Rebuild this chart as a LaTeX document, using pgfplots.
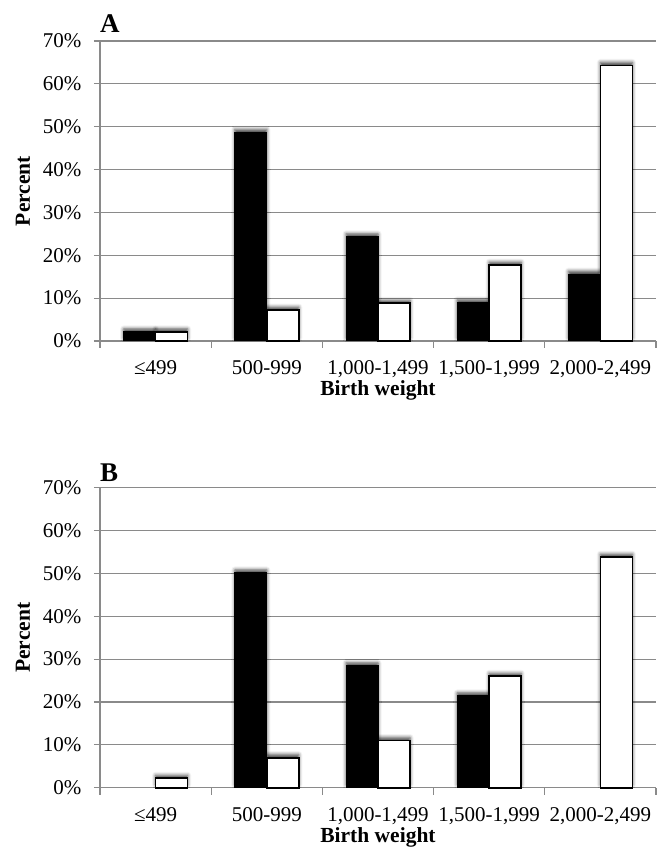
\documentclass[border=0pt]{standalone}
\usepackage{pgfplots}
\pgfplotsset{compat=1.18}
\usepackage{fontspec}
\setmainfont{Liberation Serif}
\usetikzlibrary{shadows.blur}

\definecolor{gridgray}{HTML}{8A8A8A}

\pgfplotsset{
  panel/.style={
    scale only axis,
    width=556pt, height=300pt,
    anchor=south west,
    ybar=0pt, bar width=32pt,
    xmin=-0.5, xmax=4.5, ymin=0, ymax=70,
    axis x line*=bottom, axis y line*=left,
    axis line style={gridgray, line width=1.2pt},
    xtick={0,...,4},
    xticklabels={≤499, 500-999, {1,000-1,499}, {1,500-1,999}, {2,000-2,499}},
    minor xtick={-0.5,0.5,...,4.5},
    major x tick style={draw=none},
    minor x tick style={gridgray, line width=1.2pt},
    minor tick length=7pt,
    ytick={0,10,...,70},
    yticklabel={\pgfmathprintnumber{\tick}\%},
    major y tick style={gridgray, line width=1.2pt},
    major tick length=6pt,
    tick align=outside,
    ymajorgrids,
    grid style={gridgray, line width=1.2pt},
    /pgf/number format/assume math mode=true,
    tick label style={font=\fontsize{21}{22}\selectfont},
    yticklabel style={xshift=-9pt},
    xticklabel style={yshift=-10pt},
    xlabel={Birth weight},
    ylabel={Percent},
    every axis x label/.style={at={(rel axis cs:0.5,0)}, anchor=base, yshift=-55pt,
      font=\bfseries\fontsize{21.5}{23}\selectfont},
    every axis y label/.style={at={(rel axis cs:0,0.5)}, xshift=-77pt, rotate=90, anchor=center,
      font=\bfseries\fontsize{21.5}{23}\selectfont},
    clip=false,
  },
  barshadow/.style={blur shadow={shadow xshift=0pt, shadow yshift=3pt,
      shadow blur radius=3.5pt, shadow opacity=75}},
  blackbar/.style={fill=black, draw=black, line width=1pt, barshadow},
  whitebar/.style={fill=white, draw=black, line width=1.6pt, barshadow},
}

\begin{document}
\begin{tikzpicture}
\useasboundingbox (0,0) rectangle (657pt,852pt);

% Panel A
\begin{axis}[panel, at={(100pt,511pt)}]
\addplot[blackbar] coordinates {(0,2.1) (1,48.7) (2,24.3) (3,8.9) (4,15.6)};
\addplot[whitebar] coordinates {(0,2.1) (1,7.2) (2,8.8) (3,17.7) (4,64.3)};
\node[anchor=base west, inner sep=0pt, font=\bfseries\fontsize{27}{27}\selectfont]
  at (rel axis cs:0,1) [yshift=9pt] {A};
\end{axis}

% Panel B
\begin{axis}[panel, at={(100pt,64.3pt)}]
\addplot[blackbar] coordinates {(1,50.1) (2,28.4) (3,21.4)};
\addplot[whitebar] coordinates {(0,2.2) (1,7.0) (2,11.0) (3,26.0) (4,53.8)};
\node[anchor=base west, inner sep=0pt, font=\bfseries\fontsize{27}{27}\selectfont]
  at (rel axis cs:0,1) [yshift=6pt] {B};
\end{axis}
\end{tikzpicture}
\end{document}
